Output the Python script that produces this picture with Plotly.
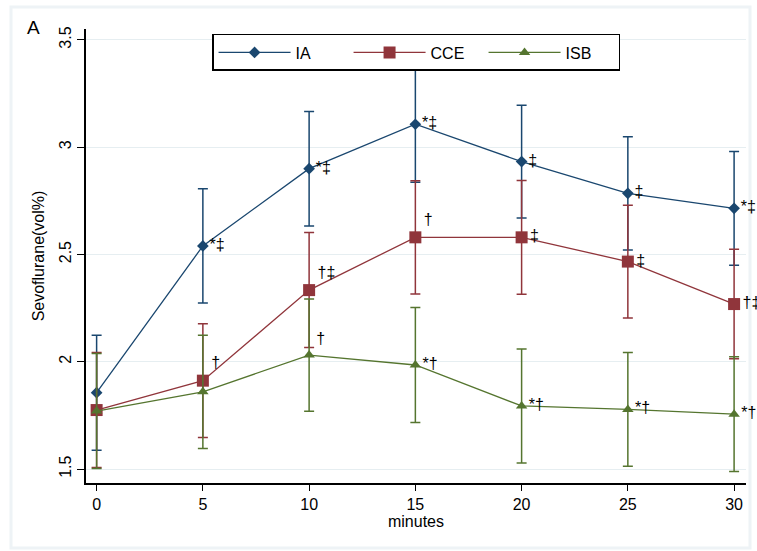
import plotly.graph_objects as go

minutes = [0, 5, 10, 15, 20, 25, 30]

ia_mean = [1.856, 2.54, 2.90, 3.107, 2.933, 2.785, 2.715]
ia_sd   = [0.268, 0.266, 0.267, 0.27, 0.263, 0.264, 0.265]
ia_labels = ["", "*‡", "*‡", "*‡", "‡", "‡", "*‡"]

cce_mean = [1.775, 1.912, 2.334, 2.58, 2.58, 2.467, 2.269]
cce_sd   = [0.268, 0.265, 0.268, 0.264, 0.265, 0.263, 0.255]
cce_labels = ["", "†", "†‡", "†", "‡", "‡", "†‡"]

isb_mean = [1.77, 1.86, 2.031, 1.985, 1.794, 1.778, 1.756]
isb_sd   = [0.268, 0.264, 0.262, 0.268, 0.266, 0.265, 0.267]
isb_labels = ["", "", "†", "*†", "*†", "*†", "*†"]

FONT = "Liberation Sans, Arial, sans-serif"
series = [
    ("IA", ia_mean, ia_sd, ia_labels, "#1a476f", "diamond", 9,
     ["middle right"] * 7),
    ("CCE", cce_mean, cce_sd, cce_labels, "#90353b", "square", 12,
     ["middle right", "top right", "top right", "top right", "middle right", "middle right", "middle right"]),
    ("ISB", isb_mean, isb_sd, isb_labels, "#55752f", "triangle-up", 10,
     ["middle right", "middle right", "top right", "middle right", "middle right", "middle right", "middle right"]),
]

fig = go.Figure()
for name, mean, sd, labels, color, symbol, size, tpos in series:
    fig.add_trace(go.Scatter(
        x=minutes, y=mean, name=name,
        mode="lines+markers+text",
        text=[t for t in labels],
        textposition=tpos,
        textfont=dict(family=FONT, size=16, color="black"),
        line=dict(color=color, width=1.3),
        marker=dict(color=color, symbol=symbol, size=size),
        error_y=dict(type="data", array=sd, visible=True, color=color,
                     thickness=1.5, width=5),
        cliponaxis=False,
    ))

fig.update_layout(
    width=757, height=551,
    margin=dict(l=86, r=11, t=29, b=68, autoexpand=False),
    paper_bgcolor="white", plot_bgcolor="white",
    font=dict(family=FONT, size=15, color="black"),
    showlegend=True,
    legend=dict(orientation="h", x=0.191, y=0.989, xanchor="left", yanchor="top",
                bgcolor="white", bordercolor="black", borderwidth=1.5,
                font=dict(family=FONT, size=16, color="black"),
                itemwidth=72, entrywidth=48, traceorder="normal"),
    xaxis=dict(range=[-0.5, 30.56], tickvals=minutes, showgrid=False, zeroline=False,
               automargin=False,
               showline=True, linecolor="black", linewidth=1.5,
               ticks="outside", ticklen=6, tickcolor="black",
               tickfont=dict(family=FONT, size=16),
               title=dict(text="minutes", font=dict(family=FONT, size=16), standoff=2)),
    yaxis=dict(range=[1.435, 3.551], tickvals=[1.5, 2, 2.5, 3, 3.5],
               ticktext=["1.5", "2", "2.5", "3", "3.5"], tickangle=-90,
               automargin=False,
               showgrid=True, gridcolor="#e6eef1", gridwidth=1.2, zeroline=False,
               showline=True, linecolor="black", linewidth=1.5,
               ticks="outside", ticklen=7, tickcolor="black",
               tickfont=dict(family=FONT, size=16),
               title=dict(text="Sevoflurane(vol%)", font=dict(family=FONT, size=16), standoff=8)),
)

fig.add_annotation(text="A", xref="paper", yref="paper", x=-0.08, y=1.004,
                   xanchor="center", yanchor="middle", showarrow=False,
                   font=dict(family=FONT, size=19, color="black"))

# outer light frame of the graph region
fig.add_shape(type="rect", xref="paper", yref="paper",
              x0=(11 - 86) / 660, x1=(750 - 86) / 660,
              y0=(483 - 548) / 454, y1=(483 - 7) / 454,
              line=dict(color="#eef3f6", width=3), layer="below")

fig.write_html("out.html", config={"displayModeBar": False},
               post_script="document.body.style.margin='0';document.body.style.overflow='hidden';")
